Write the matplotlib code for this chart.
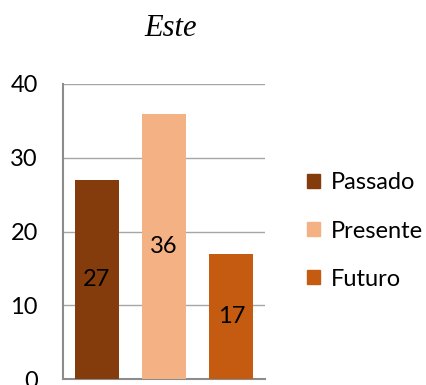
import matplotlib.pyplot as plt
from matplotlib.patches import Patch

categorias = ['Passado', 'Presente', 'Futuro']
valores = [27, 36, 17]
cores = ['#843C0C', '#F4B183', '#C55A11']
yticks = [0, 10, 20, 30, 40]

plt.rcParams['font.family'] = ['Lato', 'DejaVu Sans']

fig = plt.figure(figsize=(4.27, 3.85), dpi=100)
ax = fig.add_axes([63 / 427, 1 - 379 / 385, 202 / 427, 295 / 385])

x = range(len(valores))
barras = ax.bar(x, valores, width=0.65, color=cores, zorder=3)
for b, v in zip(barras, valores):
    ax.text(b.get_x() + b.get_width() / 2, v / 2, str(v),
            ha='center', va='center', fontsize=17, color='black', zorder=4)

ax.set_xlim(-0.5, 2.5)
ax.set_ylim(0, 40)
ax.set_yticks(yticks)
ax.set_xticks([])
ax.tick_params(axis='y', length=0, labelsize=17, pad=18)
ax.grid(axis='y', color='#A6A6A6', linewidth=1, zorder=0)
ax.set_axisbelow(True)
for s in ['top', 'right']:
    ax.spines[s].set_visible(False)
for s in ['left', 'bottom']:
    ax.spines[s].set_color('#8C8C8C')
    ax.spines[s].set_linewidth(1.5)

fig.text(171 / 427, 1 - 28 / 385, 'Este', ha='center', va='center',
         fontsize=22, family='Liberation Serif', style='italic')

handles = [Patch(color=c, label=n) for c, n in zip(cores, categorias)]
fig.legend(handles=handles, loc='center left', bbox_to_anchor=(307 / 427, 1 - 231 / 385),
           frameon=False, fontsize=17, handlelength=0.55, handleheight=0.55,
           handletextpad=0.45, labelspacing=1.15, borderpad=0, borderaxespad=0)

fig.savefig('out.png', dpi=100)
